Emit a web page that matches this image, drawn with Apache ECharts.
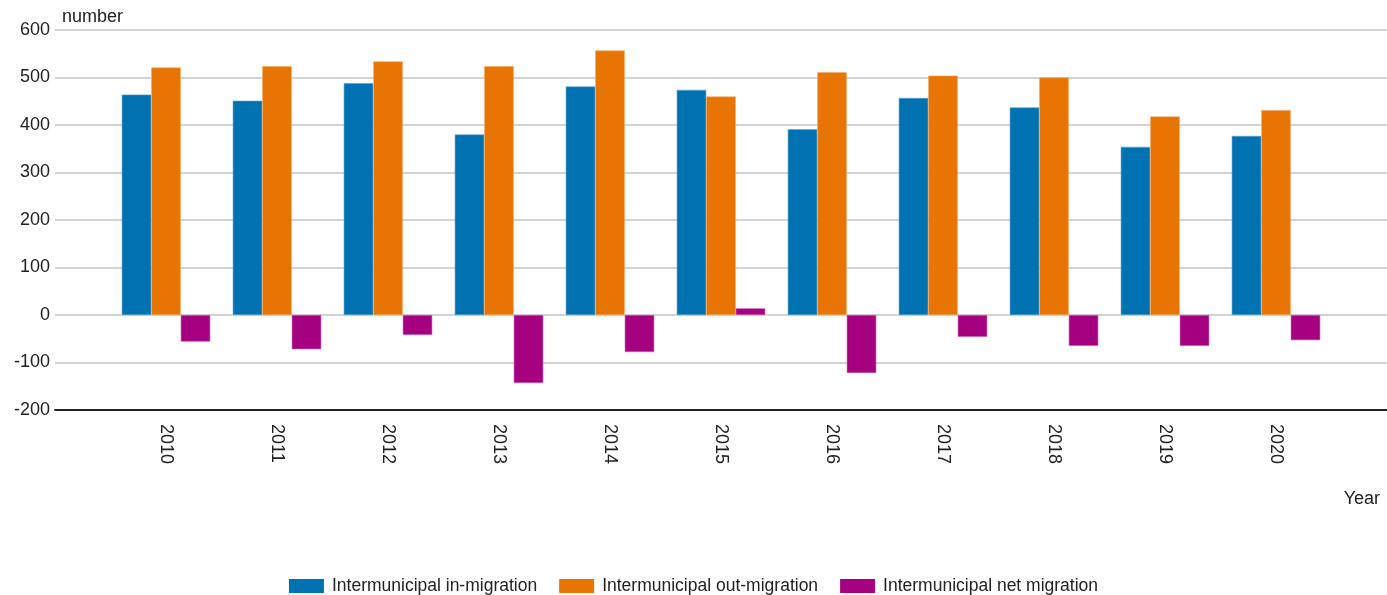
<!DOCTYPE html>
<html>
<head>
<meta charset="utf-8">
<script src="https://cdn.jsdelivr.net/npm/echarts@6/dist/echarts.min.js"></script>
<style>
html,body{margin:0;padding:0;background:#fff;}
#chart{width:1387px;height:595px;}
</style>
</head>
<body>
<div id="chart"></div>
<script>
// Categories (empty slots pad the axis at both ends)
const categories = ['', '2010', '2011', '2012', '2013', '2014', '2015', '2016', '2017', '2018', '2019', '2020', ''];
const seriesNames = ['Intermunicipal in-migration', 'Intermunicipal out-migration', 'Intermunicipal net migration'];
const inMigration  = [null, 464, 451, 488, 380, 481, 474, 391, 457, 437, 354, 377, null];
const outMigration = [null, 521, 524, 534, 524, 557, 460, 511, 504, 500, 418, 431, null];
const netMigration = [null, -56, -72, -42, -143, -78, 14, -122, -46, -65, -65, -53, null];
const yTicks = { min: -200, max: 600, interval: 100 };

const colors = ['#0072b1', '#e87503', '#a4007f'];
const borders = ['#5a9fcc', '#f4a860', '#cc5fb0'];
const font = 'Liberation Sans, Arial, sans-serif';

const chart = echarts.init(document.getElementById('chart'), null, {renderer: 'canvas'});
const mk = (i, data) => ({
  name: seriesNames[i],
  type: 'bar',
  data: data,
  barWidth: 29.5,
  barGap: '0%',
  itemStyle: { color: colors[i], borderColor: borders[i], borderWidth: 0.6 },
  emphasis: { disabled: true }
});
chart.setOption({
  animation: false,
  textStyle: { fontFamily: font },
  title: [
    { text: 'number', left: 57, top: 3, textStyle: { fontSize: 18, fontWeight: 'normal', color: '#222', fontFamily: font } },
    { text: 'Year', right: 2, top: 485, textStyle: { fontSize: 18, fontWeight: 'normal', color: '#222', fontFamily: font } }
  ],
  legend: {
    top: 572,
    left: 'center',
    itemWidth: 35,
    itemHeight: 14,
    itemGap: 22,
    icon: 'rect',
    itemStyle: { borderWidth: 0 },
    textStyle: { fontSize: 17.5, color: '#222', fontFamily: font, padding: [0, 0, 0, 3] },
    data: seriesNames
  },
  grid: { left: 55, right: 0, top: 30, bottom: 185, containLabel: false },
  xAxis: {
    type: 'category',
    data: categories,
    boundaryGap: false,
    axisLine: { onZero: false, lineStyle: { color: '#222', width: 2 } },
    axisTick: { show: false },
    axisLabel: { rotate: -90, fontSize: 18, color: '#222', margin: 14, fontFamily: font },
    splitLine: { show: false }
  },
  yAxis: {
    type: 'value',
    min: yTicks.min, max: yTicks.max, interval: yTicks.interval,
    axisLine: { show: false },
    axisTick: { show: false },
    axisLabel: { fontSize: 18, color: '#222', margin: 5, fontFamily: font },
    splitLine: { lineStyle: { color: '#c4c4c4', width: 1.5 } }
  },
  series: [mk(0, inMigration), mk(1, outMigration), mk(2, netMigration)]
});
</script>
</body>
</html>
